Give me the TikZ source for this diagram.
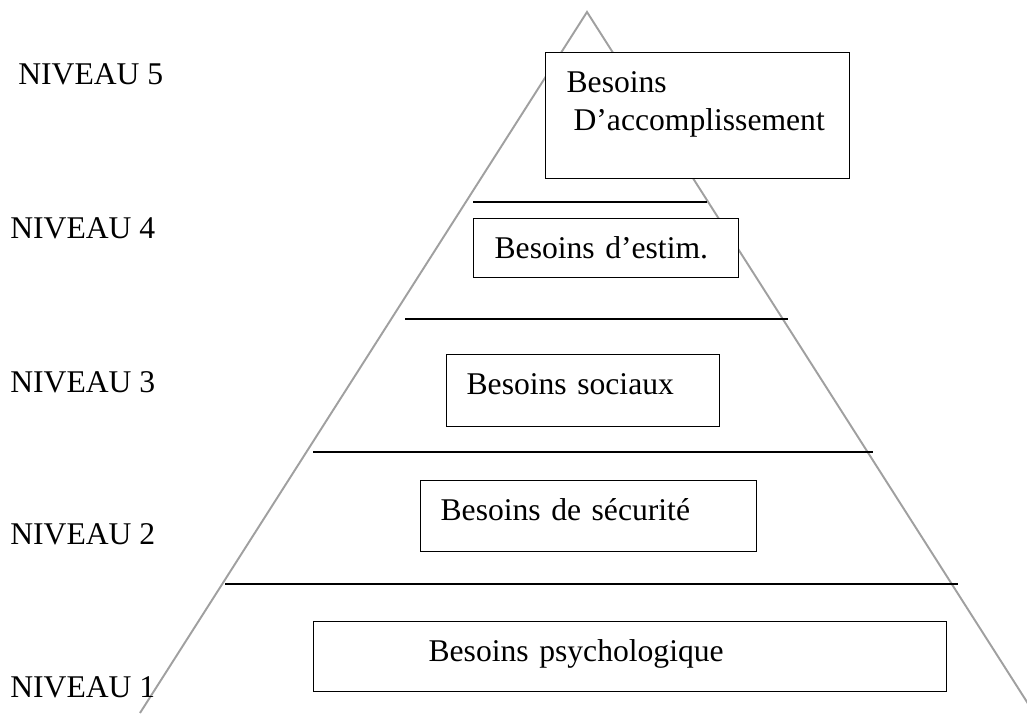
\documentclass[tikz,border=0pt]{standalone}
\usepackage{fontspec}
\setmainfont{Liberation Serif}
\usepackage{tikz}
\usetikzlibrary{positioning}

\definecolor{pyrgray}{RGB}{160,160,160}
\tikzset{
  every node/.style={font=\fontsize{18pt}{21.6pt}\selectfont},
  niveau/.style={anchor=base west, inner sep=0pt},
  besoin/.style={draw, line width=0.7pt, fill=white, anchor=north west,
    align=left, inner ysep=0pt, text height=0.8cm},
  palier/.style={line width=0.8pt},
  pyramide/.style={draw=pyrgray, line width=1.1pt},
}

\begin{document}
\begin{tikzpicture}[x=0.02cm, y=-0.02cm]
\useasboundingbox (0,0) rectangle (1027,713);
% the pyramid
\coordinate (apex) at (587,12);
\coordinate (base west) at (140,713);
\coordinate (base east) at (1034,713);
\draw[pyramide] (base west) -- (apex) -- (base east);
% lines between the levels
\draw[palier] (473,202) -- (707,202);
\draw[palier] (405,319) -- (788,319);
\draw[palier] (313,452) -- (873,452);
\draw[palier] (225,584) -- (958,584);
% level names on the left
\node[niveau] (n5) at (18,85) {NIVEAU 5};
\node[niveau] (n4) at (10,238) {NIVEAU 4};
\node[niveau] (n3) at (10,392) {NIVEAU 3};
\node[niveau] (n2) at (10,544) {NIVEAU 2};
\node[niveau] (n1) at (10,697) {NIVEAU 1};
% the needs, one box per level
\node[besoin, inner xsep=0.42cm, text width=5.24cm, text depth=1.72cm] (b5) at (545,52)
  {Besoins\\\hspace*{0.14cm}D’accomplissement};
\node[besoin, inner xsep=0.42cm, text width=4.46cm, text depth=0.38cm] (b4) at (473,218)
  {Besoins d’estim.};
\node[besoin, inner xsep=0.40cm, text width=4.66cm, text depth=0.64cm] (b3) at (446,354)
  {Besoins sociaux};
\node[besoin, inner xsep=0.40cm, text width=5.92cm, text depth=0.62cm] (b2) at (420,480)
  {Besoins de sécurité};
\node[besoin, inner xsep=2.30cm, text width=8.06cm, text depth=0.60cm] (b1) at (313,621)
  {Besoins psychologique};
\end{tikzpicture}
\end{document}
